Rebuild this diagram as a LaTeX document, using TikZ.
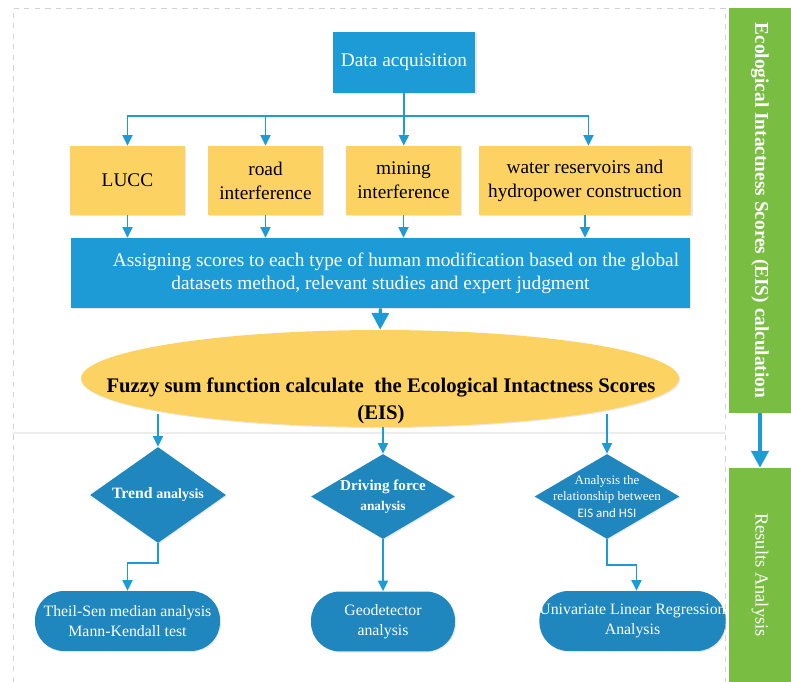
\documentclass[tikz,border=0pt]{standalone}
\usepackage{fontspec}
\setmainfont{Liberation Serif}
\newfontfamily\calibri{Carlito}
\usetikzlibrary{shadows,arrows.meta,shapes.geometric}
\definecolor{skyblue}{RGB}{29,155,214}
\definecolor{deepblue}{RGB}{31,134,190}
\definecolor{sand}{RGB}{252,211,99}
\definecolor{leaf}{RGB}{122,189,67}
\tikzstyle{shade}=[drop shadow={opacity=0.18,shadow xshift=0.6pt,shadow yshift=-0.6pt}]
\tikzstyle{source}=[rectangle, fill=skyblue, text=white, align=center, inner sep=0pt,
font=\fontsize{11}{13.5}\selectfont, shade]
\tikzstyle{factor}=[rectangle, fill=sand, align=center, inner sep=0pt,
font=\fontsize{11}{13.7}\selectfont, shade]
\tikzstyle{score}=[ellipse, fill=sand, inner sep=0pt, shade]
\tikzstyle{choice}=[diamond, fill=deepblue, text=white, align=center, inner sep=-15pt,
shade]
\tikzstyle{method}=[rectangle, rounded corners=0.58cm, fill=deepblue, text=white,
align=center, inner sep=0pt, font=\fontsize{9}{11.4}\selectfont, shade]
\tikzstyle{stage}=[rectangle, fill=leaf, text=white, inner sep=0pt, rotate=-90]
\tikzstyle{flow}=[draw=skyblue, line width=1pt, -{Triangle[width=5.7pt,length=6pt]}]
\tikzstyle{bigflow}=[draw=skyblue, line width=1.8pt, -{Triangle[width=9.7pt,length=9.5pt]}]

\begin{document}
\begin{tikzpicture}[x=0.02cm,y=-0.02cm]
\useasboundingbox (0,0) rectangle (791,682);
% frame and separator
\draw[gray!35, dashed, line width=0.5pt] (13,682) -- (13,8) -- (725,8) -- (725,682);
\draw[gray!15, line width=1pt] (13,433) -- (725,433);

\node[source, minimum width=2.86cm, minimum height=1.22cm](acq) at (404,62.5) {Data acquisition};
\node[factor, minimum width=2.3cm, minimum height=1.38cm](lucc) at (127.5,180.5) {LUCC};
\node[factor, minimum width=2.3cm, minimum height=1.38cm](road) at (265.5,180.5) {road\\interference};
\node[factor, minimum width=2.3cm, minimum height=1.38cm](mining) at (403.5,180.5) {mining\\interference};
\node[factor, minimum width=4.26cm, minimum height=1.38cm](water) at (585,180.5) {water reservoirs and\\hydropower construction};
\node[source, minimum width=12.38cm, minimum height=1.4cm, font=\fontsize{11}{13}\selectfont](assign) at (380.5,273)
{\hspace*{1.6em}Assigning scores to each type of human modification based on the global\\datasets method, relevant studies and expert judgment};
\node[score, minimum width=11.96cm, minimum height=1.94cm](fuzzy) at (380,378.5) {};
\node[align=center, font=\bfseries\fontsize{11.8}{15.5}\selectfont](fuzzytext) at (381,401)
{Fuzzy sum function calculate\ \ the Ecological Intactness Scores\\(EIS)};

\node[choice, minimum width=2.72cm, minimum height=1.92cm, font=\bfseries\fontsize{8}{10}\selectfont](trend) at (158,495)
{{\fontsize{9}{10}\selectfont Trend} analysis};
\node[choice, minimum width=2.88cm, minimum height=1.7cm, font=\bfseries\fontsize{8.6}{10.5}\selectfont](force) at (383,496.5)
{Driving force\\[0.1em]{\fontsize{7.6}{9}\selectfont analysis}};
\node[choice, minimum width=2.9cm, minimum height=1.7cm, font=\fontsize{7.4}{9.2}\selectfont](relation) at (607,496.5)
{Analysis the\\relationship between\\{\calibri EIS and HSI}};

\node[method, minimum width=3.7cm, minimum height=1.2cm](theil) at (127.5,621) {Theil-Sen median analysis\\Mann-Kendall test};
\node[method, minimum width=2.88cm, minimum height=1.2cm](geo) at (383,621.5) {Geodetector\\analysis};
\node[method, minimum width=3.66cm, minimum height=1.2cm](regression) at (632.5,621) {Univariate Linear Regression\\Analysis};

\node[stage, minimum width=8.1cm, minimum height=1.24cm, font=\bfseries\fontsize{11}{13}\selectfont](calc) at (760,210.5)
{Ecological Intactness Scores (EIS) calculation};
\node[stage, minimum width=4.28cm, minimum height=1.24cm, font=\fontsize{10.5}{13}\selectfont](results) at (760,575)
{Results Analysis};

\coordinate (split) at (404,116);
\draw[draw=skyblue, line width=1pt] (acq) -- (split);
\draw[flow] (split) -| (lucc);
\draw[flow] (split) -| (road);
\draw[flow] (split) -- (mining);
\draw[flow] (split) -| ([xshift=0.07cm]water.north);
\draw[flow] (lucc) -- (lucc |- assign.north);
\draw[flow] (road) -- (road |- assign.north);
\draw[flow] (mining) -- (mining |- assign.north);
\draw[flow] (water) -- (water |- assign.north);
\draw[bigflow] (assign) -- (fuzzy);
\draw[flow] (trend.north |- fuzzy.190) -- (trend.north);
\draw[flow] (force.north |- fuzzy.south) -- (force.north);
\draw[flow] (relation.north |- fuzzy.350) -- (relation.north);
\draw[flow] (trend.south) -- ++(0,20) -| (theil.north);
\draw[flow] (force) -- (geo);
\draw[flow] (relation.south) -- ++(0,26) -| ([xshift=0.08cm]regression.north);
\draw[bigflow, line width=2.2pt] (calc) -- (results);
\end{tikzpicture}
\end{document}
